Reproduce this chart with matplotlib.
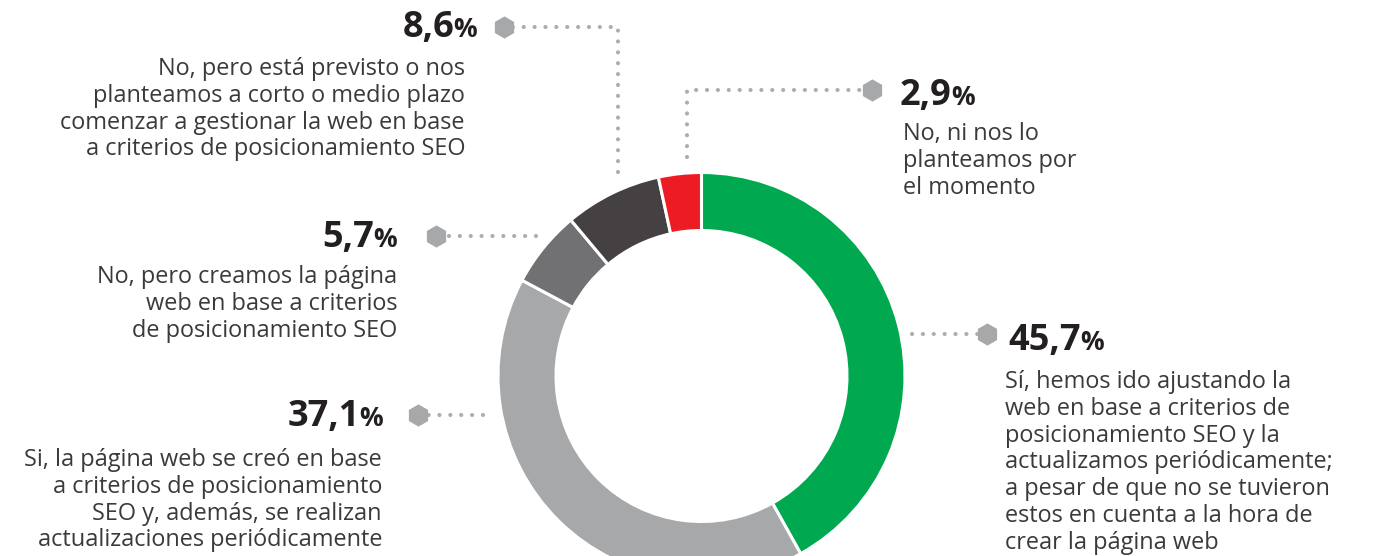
import matplotlib
matplotlib.use('Agg')
import matplotlib.pyplot as plt

# printed shares (%), clockwise from 12 o'clock
pct_labels = ['45,7', '37,1', '5,7', '8,6', '2,9']
# wedge sizes as actually drawn in the source graphic (measured angles, %)
wedge_sizes = [41.9, 40.9, 6.1, 7.7, 3.4]
colors = ['#00A94F', '#A7A8AA', '#717073', '#454142', '#ED1C24']
descriptions = [
    ['Sí, hemos ido ajustando la', 'web en base a criterios de', 'posicionamiento SEO y la',
     'actualizamos periódicamente;', 'a pesar de que no se tuvieron',
     'estos en cuenta a la hora de', 'crear la página web'],
    ['Si, la página web se creó en base', 'a criterios de posicionamiento',
     'SEO y, además, se realizan', 'actualizaciones periódicamente'],
    ['No, pero creamos la página', 'web en base a criterios', 'de posicionamiento SEO'],
    ['No, pero está previsto o nos', 'planteamos a corto o medio plazo',
     'comenzar a gestionar la web en base', 'a criterios de posicionamiento SEO'],
    ['No, ni nos lo', 'planteamos por', 'el momento'],
]

W, H = 1383, 556
FONT = 'Open Sans'
TXT = '#3a3a3a'
NUM = '#231F20'
DOT = '#ADADAF'


def py(y):
    # picture rows are counted from the top
    return H - y


fig = plt.figure(figsize=(W / 100, H / 100), dpi=100)
ax = fig.add_axes([0, 0, 1, 1])
ax.pie(wedge_sizes, colors=colors, startangle=90, counterclock=False,
       center=(701.5, py(376)), radius=203.5,
       wedgeprops=dict(width=58, edgecolor='white', linewidth=2.2))
ax.set_xlim(0, W)
ax.set_ylim(0, H)
ax.set_aspect('equal')
ax.axis('off')

# label layout: (leader path, hexagon, number anchor, align, first desc baseline)
layout = [
    ([(912, 334), (987, 334)], (987, 334), (1008, 350), 'left', (1005, 388)),
    ([(483, 415), (418, 415)], (418, 415), (383, 426), 'right', (382, 466)),
    ([(536, 236), (436, 236)], (436, 236), (397, 247), 'right', (397, 283)),
    ([(618, 172), (618, 27), (504, 27)], (504, 27), (477, 37), 'right', (465, 75)),
    ([(687, 157), (687, 90), (872, 90)], (872, 90), (900, 105), 'left', (903, 140)),
]
LEAD = 26.8

for lab, desc, (path, hexpos, numpos, align, descpos) in zip(pct_labels, descriptions, layout):
    xs = [p[0] for p in path]
    ys = [py(p[1]) for p in path]
    ax.plot(xs, ys, color=DOT, lw=3.0, linestyle=(0, (0.01, 2.6)),
            dash_capstyle='round', solid_joinstyle='round')
    ax.plot(hexpos[0], py(hexpos[1]), marker='h', ms=16, color='#A7A8AA', mec='none')

    nx, ny = numpos
    if align == 'left':
        t = ax.text(nx, py(ny), lab, fontsize=26, fontweight='bold', family=FONT,
                    color=NUM, ha='left', va='baseline')
        ax.annotate('%', xy=(1, py(ny)), xycoords=(t, 'data'), xytext=(-0.5, 0),
                    textcoords='offset points', fontsize=19, fontweight='bold',
                    family=FONT, color=NUM, ha='left', va='baseline')
    else:
        p = ax.text(nx, py(ny), '%', fontsize=19, fontweight='bold', family=FONT,
                    color=NUM, ha='right', va='baseline')
        ax.annotate(lab, xy=(0, py(ny)), xycoords=(p, 'data'), xytext=(0.5, 0),
                    textcoords='offset points', fontsize=26, fontweight='bold',
                    family=FONT, color=NUM, ha='right', va='baseline')

    dx, dy = descpos
    for i, line in enumerate(desc):
        ax.text(dx, py(dy + i * LEAD), line, fontsize=16.9, family=FONT,
                color=TXT, ha=align, va='baseline')

fig.savefig('out.png', dpi=100)
